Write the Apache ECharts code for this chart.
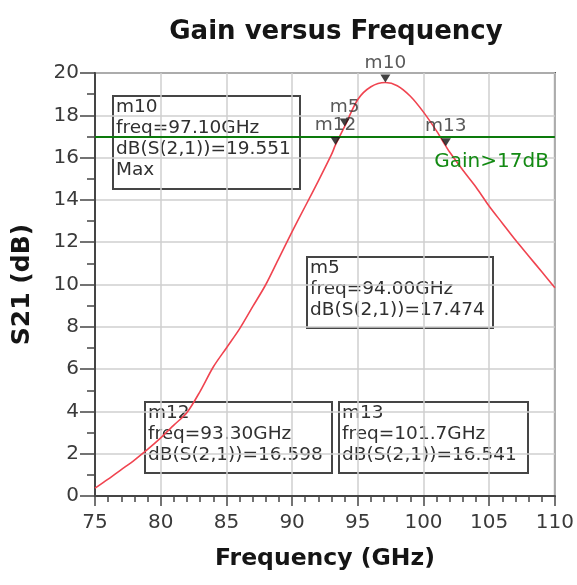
<!DOCTYPE html>
<html>
<head>
<meta charset="utf-8">
<script src="https://cdn.jsdelivr.net/npm/echarts@6/dist/echarts.min.js"></script>
<style>
  html, body { margin: 0; padding: 0; background: #ffffff; }
  #chart { width: 577px; height: 585px; }
</style>
</head>
<body>
<div id="chart"></div>
<script>
// Simulated S21 of the amplifier, frequency sweep in GHz
const freqGHz = [75, 76, 77, 78, 79, 80, 81, 82, 83, 84, 85, 86, 87, 88, 89, 90, 91, 92, 93, 93.3,
  94, 95, 96, 97.1, 98, 99, 100, 101, 101.7, 102, 103, 104, 105, 106, 107, 108, 109, 110];
const s21dB = [0.37, 0.8, 1.25, 1.7, 2.2, 2.75, 3.35, 3.95, 4.95, 6.1, 7.0, 7.9, 8.95, 10.0, 11.25, 12.5, 13.7, 14.9, 16.15, 16.598,
  17.474, 18.75, 19.35, 19.551, 19.4, 18.9, 18.15, 17.25, 16.541, 16.25, 15.4, 14.6, 13.7, 12.9, 12.1, 11.35, 10.6, 9.85];

// Markers placed on the trace
const markerNames = ['m10', 'm5', 'm12', 'm13'];
const markerFreq = [97.1, 94.0, 93.3, 101.7];
const markerGain = [19.551, 17.474, 16.598, 16.541];
const markerNotes = ['Max', '', '', ''];

// Gain limit line
const gainLimit = 17;
const gainLimitLabel = 'Gain>17dB';

// Axis ranges and tick steps
const xRange = [75, 110];
const xStep = 5;
const yRange = [0, 20];
const yStep = 2;

const FONT = 'DejaVu Sans';
const chart = echarts.init(document.getElementById('chart'), null, { renderer: 'canvas' });

// Readout box for a marker
function markerBox(i, left, top, w, h) {
  const lines = [
    markerNames[i],
    'freq=' + markerFreq[i].toPrecision(4) + 'GHz',
    'dB(S(2,1))=' + markerGain[i].toFixed(3)
  ];
  if (markerNotes[i]) lines.push(markerNotes[i]);
  return {
    type: 'group',
    left: left, top: top,
    z: 50,
    children: [
      { type: 'rect', shape: { x: 0, y: 0, width: w, height: h },
        style: { fill: 'rgba(0,0,0,0)', stroke: '#454545', lineWidth: 2 } },
      { type: 'text', x: 3, y: 1,
        style: { text: lines.join('\n'), font: '18.5px "' + FONT + '"', lineHeight: 21,
          fill: '#303030' } }
    ]
  };
}

const option = {
  backgroundColor: '#ffffff',
  animation: false,
  title: {
    text: 'Gain versus Frequency',
    left: 331, top: 14, textAlign: 'center',
    textStyle: { fontFamily: FONT, fontWeight: 'bold', fontSize: 26, color: '#151515' }
  },
  grid: {
    left: 95, right: 18, top: 73, bottom: 89,
    show: true, borderColor: '#454545', borderWidth: 2, backgroundColor: 'transparent'
  },
  xAxis: {
    type: 'value', min: xRange[0], max: xRange[1], interval: xStep,
    name: 'Frequency (GHz)', nameLocation: 'middle', nameGap: 51,
    nameTextStyle: { fontFamily: FONT, fontWeight: 'bold', fontSize: 23.5, color: '#151515' },
    axisLine: { show: true, lineStyle: { color: '#454545', width: 2 } },
    axisTick: { show: true, length: 10, lineStyle: { color: '#454545', width: 1.5 } },
    minorTick: { show: true, splitNumber: 5, length: 6, lineStyle: { color: '#454545', width: 1.5 } },
    axisLabel: { margin: 17, fontFamily: FONT, fontSize: 20, color: '#3a3a3a' },
    splitLine: { show: true, lineStyle: { color: '#cfcfcf', width: 1.5 } }
  },
  yAxis: {
    type: 'value', min: yRange[0], max: yRange[1], interval: yStep,
    name: 'S21 (dB)', nameLocation: 'middle', nameGap: 60, nameRotate: 90,
    nameTextStyle: { fontFamily: FONT, fontWeight: 'bold', fontSize: 25, color: '#151515' },
    axisLine: { show: true, lineStyle: { color: '#454545', width: 2 } },
    axisTick: { show: true, length: 15, lineStyle: { color: '#454545', width: 1.5 } },
    minorTick: { show: true, splitNumber: 2, length: 8, lineStyle: { color: '#454545', width: 1.5 } },
    axisLabel: { margin: 16, fontFamily: FONT, fontSize: 20, color: '#3a3a3a' },
    splitLine: { show: true, lineStyle: { color: '#cfcfcf', width: 1.5 } }
  },
  series: [
    {
      name: 'dB(S(2,1))',
      type: 'line',
      data: freqGHz.map((f, i) => [f, s21dB[i]]),
      smooth: 0.3,
      showSymbol: false,
      lineStyle: { color: '#f04450', width: 1.6 },
      z: 3,
      markLine: {
        silent: true,
        symbol: 'none',
        lineStyle: { color: '#0c7a0c', width: 2.2, type: 'solid' },
        label: {
          show: true, position: 'insideEndBottom', formatter: gainLimitLabel,
          fontFamily: FONT, fontSize: 20, color: '#138a13', distance: [6, 15]
        },
        data: [{ yAxis: gainLimit }]
      }
    },
    {
      name: 'markers',
      type: 'scatter',
      data: markerNames.map((n, i) => ({ name: n, value: [markerFreq[i], markerGain[i]] })),
      symbol: 'triangle',
      symbolRotate: 180,
      symbolSize: [10, 8],
      symbolOffset: [0, -4],
      itemStyle: { color: '#111111' },
      label: {
        show: true, position: 'top', distance: 2, formatter: '{b}',
        fontFamily: FONT, fontSize: 18.5, color: '#303030'
      },
      z: 10
    }
  ],
  graphic: [
    markerBox(0, 112, 95, 187, 93),
    markerBox(1, 306, 256, 186, 71),
    markerBox(2, 144, 401, 187, 71),
    markerBox(3, 338, 401, 189, 71)
  ]
};

chart.setOption(option);
</script>
</body>
</html>
